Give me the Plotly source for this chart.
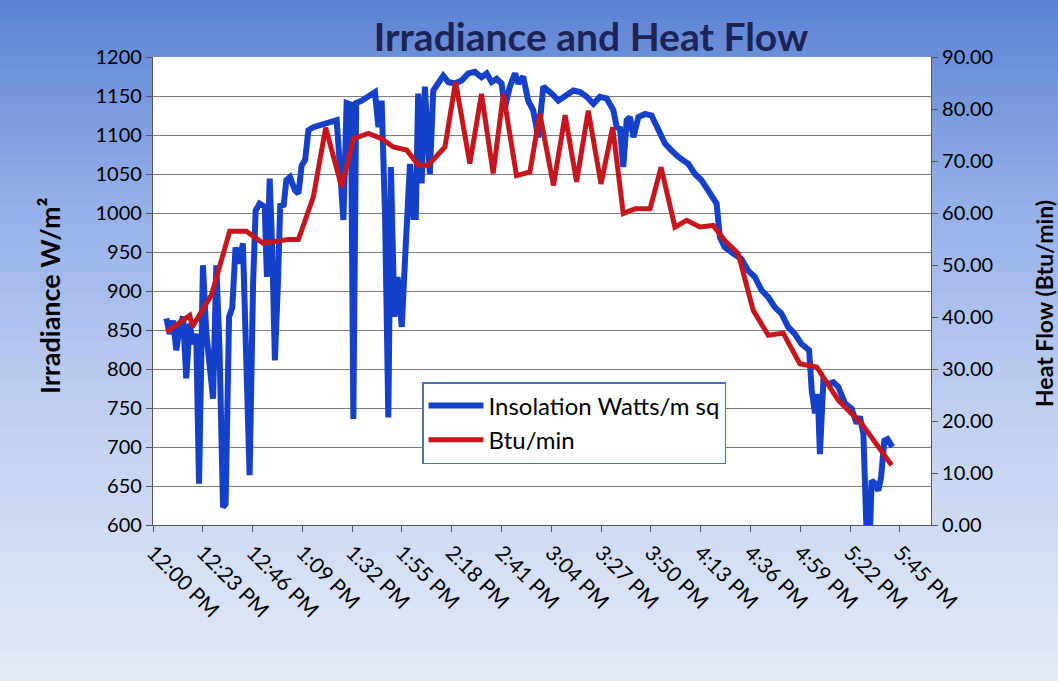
import plotly.graph_objects as go

# ---------------- data (minutes after 12:00 PM) ----------------
insol_min = [6.2, 7.7, 9.3, 10.8, 12.3, 13.9, 15.4, 17.0, 18.5, 20.0, 21.3, 23.1, 24.7, 26.2, 27.8,
             29.3, 30.8, 32.4, 33.6, 35.2, 36.7, 38.2, 39.8, 41.6, 43.2, 44.7, 46.3, 47.5, 49.3,
             51.7, 52.7, 54.0, 55.2, 56.4, 57.8, 58.9, 60.4, 61.7, 63.4, 65.7, 67.3, 68.8, 70.4,
             71.9, 74.2, 76.5, 79.6, 82.7, 85.0, 86.5, 88.1, 89.6, 91.6, 92.7, 94.0, 96.6, 99.6,
             102.7, 104.3, 105.8, 107.4, 108.9, 110.1, 111.7, 113.2, 115.1, 116.9, 118.9, 120.5,
             121.6, 122.7, 124.3, 125.8, 128.1, 129.7, 132.0, 134.3, 136.6, 139.7, 142.8, 145.9,
             148.9, 152.0, 154.4, 156.7, 159.0, 161.3, 162.8, 165.1, 167.5, 169.0, 171.3, 173.6,
             175.9, 178.3, 180.6, 182.9, 184.5, 187.6, 190.7, 194.5, 197.6, 200.7, 203.8, 206.8,
             209.9, 213.0, 214.6, 216.1, 217.6, 219.2, 220.7, 222.3, 224.6, 227.7, 230.7, 233.8,
             236.9, 240.0, 243.1, 247.7, 250.8, 253.8, 256.9, 259.2, 260.8, 262.3, 264.6, 268.5,
             272.3, 275.4, 278.5, 281.6, 284.7, 287.8, 290.8, 293.9, 297.0, 300.1, 302.4, 303.6,
             304.8, 306.3, 307.6, 308.6, 310.2, 312.5, 314.8, 317.1, 320.2, 323.3, 325.6, 327.1,
             328.7, 330.2, 331.8, 332.5, 334.1, 335.6, 336.9, 338.4, 339.9, 342.1]
insol_wm2 = [865, 845, 862, 824, 854, 867, 788, 858, 832, 845, 653, 933, 845, 803, 762,
             933, 824, 623, 627, 867, 879, 956, 935, 961, 824, 664, 909, 1003, 1012,
             1008, 918, 1044, 952, 811, 909, 1012, 1008, 1042, 1046, 1029, 1025, 1061, 1068,
             1106, 1110, 1112, 1115, 1117, 1119, 1059, 991, 1141, 1139, 736, 1141, 1144, 1149,
             1155, 1110, 1144, 995, 738, 1059, 867, 918, 854, 956, 1063, 995,
             995, 1153, 1038, 1162, 1050, 1157, 1166, 1176, 1168, 1166, 1170, 1179,
             1181, 1174, 1179, 1168, 1172, 1166, 1134, 1162, 1179, 1166, 1175, 1144,
             1132, 1097, 1162, 1157, 1153, 1144, 1149, 1157, 1155, 1149, 1140, 1149,
             1147, 1132, 1110, 1108, 1059, 1119, 1123, 1097, 1123, 1127, 1125, 1106,
             1089, 1080, 1072, 1063, 1050, 1042, 1029, 1016, 1012, 969, 956, 948,
             941, 926, 918, 901, 892, 879, 871, 854, 845, 832, 826, 824,
             773, 743, 768, 691, 785, 781, 783, 777, 756, 749, 730, 739,
             717, 590, 590, 657, 653, 644, 661, 708, 710, 700]

btu_min_t = [6.2, 17.0, 18.2, 27.0, 35.5, 43.2, 50.9, 62.5, 67.3, 74.2, 79.9, 87.3, 92.7, 99.7,
             105.8, 111.2, 117.4, 122.8, 127.4, 135.1, 140.0, 146.6, 152.0, 157.4, 162.1, 168.2,
             174.4, 179.0, 185.3, 190.7, 196.0, 201.4, 207.3, 212.7, 217.6, 223.0, 230.0, 235.1,
             241.5, 246.9, 253.1, 259.2, 264.6, 270.8, 277.7, 284.7, 291.6, 299.3, 307.1, 311.0,
             317.1, 323.3, 327.9, 341.8]
btu_min = [37.1, 40.3, 38.1, 44.2, 56.5, 56.5, 54.2, 54.9, 54.9, 63.1, 76.4, 65.0, 74.3, 75.3,
           74.3, 72.7, 72.1, 69.2, 69.2, 72.7, 85.2, 69.5, 82.9, 67.6, 82.9, 67.2,
           67.9, 79.1, 65.3, 78.8, 66.0, 79.7, 65.6, 76.5, 59.9, 60.8, 60.8, 68.8,
           57.3, 58.6, 57.3, 57.6, 54.7, 52.2, 41.3, 36.5, 36.9, 31.0, 30.4, 27.8,
           24.0, 21.4, 19.5, 11.5]

time_labels = ["12:00 PM", "12:23 PM", "12:46 PM", "1:09 PM", "1:32 PM", "1:55 PM", "2:18 PM",
               "2:41 PM", "3:04 PM", "3:27 PM", "3:50 PM", "4:13 PM", "4:36 PM", "4:59 PM",
               "5:22 PM", "5:45 PM"]
TICK_STEP = 23.04  # Excel major unit 0.016 day

FONT = "Lato, 'Open Sans', sans-serif"

fig = go.Figure()
fig.add_trace(go.Scatter(x=insol_min, y=insol_wm2, mode="lines", name="Insolation Watts/m sq",
                         line=dict(color="#1540C8", width=6), yaxis="y"))
fig.add_trace(go.Scatter(x=btu_min_t, y=btu_min, mode="lines", name="Btu/min",
                         line=dict(color="#C4161C", width=5), yaxis="y2"))

# gradient background (bands in paper coordinates)
W, H = 1058, 681
L, R, T, B = 153, 127, 57, 156
pw, ph = W - L - R, H - T - B
stops = [(0, (92, 130, 212)), (200, (148, 175, 232)), (400, (190, 206, 241)), (681, (228, 234, 247))]

def col_at(yy):
    for (y0, c0), (y1, c1) in zip(stops[:-1], stops[1:]):
        if y0 <= yy <= y1:
            f = (yy - y0) / (y1 - y0)
            return "rgb(%d,%d,%d)" % tuple(round(a + (b - a) * f) for a, b in zip(c0, c1))
    return "rgb(%d,%d,%d)" % stops[-1][1]

shapes = []
nb = 70
for i in range(nb):
    ya = H * i / nb
    yb = H * (i + 1) / nb + 1
    shapes.append(dict(type="rect", xref="paper", yref="paper", layer="below",
                       x0=-L / pw, x1=(W - L) / pw,
                       y0=(H - B - yb) / ph, y1=(H - B - ya) / ph,
                       fillcolor=col_at((ya + yb) / 2), line=dict(width=0)))
shapes.append(dict(type="rect", xref="paper", yref="paper", layer="below",
                   x0=0, x1=1, y0=0, y1=1, fillcolor="white", line=dict(width=0)))

fig.update_layout(
    width=W, height=H, autosize=False,
    margin=dict(l=L, r=R, t=T, b=B, pad=0),
    paper_bgcolor="rgb(200,214,242)", plot_bgcolor="white",
    shapes=shapes,
    font=dict(family=FONT, color="black", size=18),
    title=dict(text="<b>Irradiance and Heat Flow</b>", x=591 / W, xanchor="center",
               y=1 - 37 / H, yanchor="middle",
               font=dict(family=FONT, size=39, color="#1B2454", weight=900)),
    xaxis=dict(range=[0, 360], tickvals=[i * TICK_STEP for i in range(len(time_labels))],
               ticktext=time_labels, tickangle=45, ticks="outside", ticklen=6,
               tickcolor="#555", showline=True, linecolor="#555", linewidth=1.2,
               showgrid=False, zeroline=False, tickfont=dict(size=21)),
    yaxis=dict(range=[600, 1200], dtick=50, ticks="outside", ticklen=6, tickcolor="#555",
               showline=True, linecolor="#555", linewidth=1.2, gridcolor="#7c7c7c",
               gridwidth=1.3, zeroline=False, tickfont=dict(size=20)),
    yaxis2=dict(range=[0, 90], dtick=10, tickformat=".2f", overlaying="y", side="right",
                ticks="outside", ticklen=6, tickcolor="#555", showline=True, linecolor="#555",
                linewidth=1.2, showgrid=False, zeroline=False, tickfont=dict(size=20)),
    legend=dict(x=(422 - L) / pw, y=(H - B - 382) / ph, xanchor="left", yanchor="top",
                bgcolor="white", bordercolor="#4472C4", borderwidth=1.5,
                font=dict(size=24), tracegroupgap=0, itemwidth=55),
    showlegend=True,
    annotations=[
        dict(text="<b>Irradiance W/m²</b>", xref="paper", yref="paper", x=(49 - L) / pw,
             y=(H - B - 296) / ph, textangle=-90, showarrow=False, font=dict(size=27),
             xanchor="center", yanchor="middle"),
        dict(text="<b>Heat Flow (Btu/min)</b>", xref="paper", yref="paper",
             x=(1044 - L) / pw, y=(H - B - 304) / ph, textangle=-90, showarrow=False,
             font=dict(size=23), xanchor="center", yanchor="middle"),
    ],
)

fig.write_html("out.html", config={"displayModeBar": False},
               post_script="document.body.style.margin='0px';")
